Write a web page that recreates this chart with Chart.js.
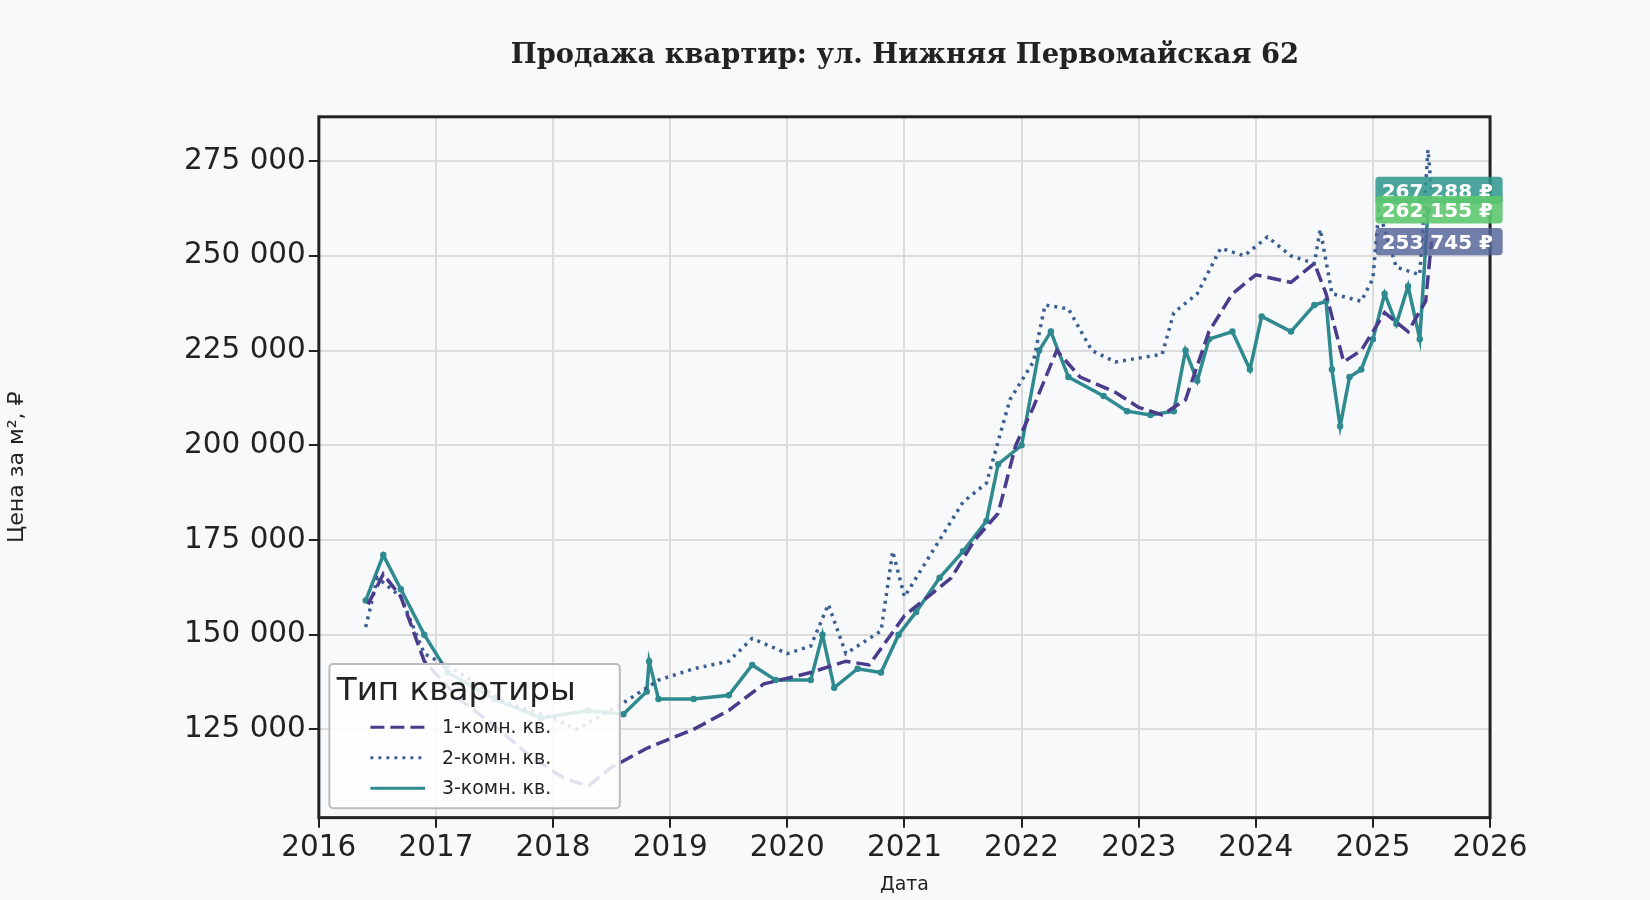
<!DOCTYPE html>
<html>
<head>
<meta charset="utf-8">
<script src="https://cdn.jsdelivr.net/npm/chart.js@4"></script>
<style>
  body { margin: 0; background: #f8f9fb; }
</style>
</head>
<body>
<canvas id="myChart" width="1650" height="900"></canvas>
<script>
// даты как доли года
const oneRoomX = [2016.42,2016.55,2016.7,2016.9,2017.2,2017.5,2017.8,2018.1,2018.3,2018.5,2018.8,2019.2,2019.5,2019.8,2020.2,2020.5,2020.7,2021.0,2021.2,2021.4,2021.6,2021.8,2021.95,2022.1,2022.3,2022.5,2022.8,2023.0,2023.2,2023.4,2023.6,2023.8,2024.0,2024.3,2024.5,2024.6,2024.75,2024.9,2025.1,2025.3,2025.45,2025.5];
const oneRoomY = [158000,166000,160000,143000,133000,126000,118000,112000,110000,115000,120000,125000,130000,137000,140000,143000,142000,155000,160000,165000,175000,182000,200000,210000,225000,218000,214000,210000,208000,212000,230000,240000,245000,243000,248000,240000,222000,225000,235000,230000,238000,253745];

const twoRoomX = [2016.4,2016.5,2016.7,2016.9,2017.2,2017.6,2018.0,2018.2,2018.6,2018.9,2019.2,2019.5,2019.7,2020.0,2020.2,2020.35,2020.5,2020.8,2020.9,2021.0,2021.3,2021.5,2021.7,2021.9,2022.1,2022.2,2022.4,2022.6,2022.8,2023.0,2023.2,2023.3,2023.5,2023.7,2023.9,2024.1,2024.3,2024.5,2024.55,2024.65,2024.9,2025.0,2025.05,2025.2,2025.4,2025.47,2025.5];
const twoRoomY = [152000,165000,160000,145000,140000,132000,128000,125000,132000,138000,141000,143000,149000,145000,147000,158000,145000,151000,172000,160000,175000,185000,190000,212000,222000,237000,236000,225000,222000,223000,224000,235000,240000,252000,250000,255000,250000,248000,257000,240000,238000,244000,262000,247000,245000,278000,267288];

const threeRoomX = [2016.4,2016.55,2016.7,2016.9,2017.1,2017.5,2017.9,2018.3,2018.6,2018.8,2018.82,2018.9,2019.2,2019.5,2019.7,2019.9,2020.2,2020.3,2020.4,2020.6,2020.8,2020.95,2021.1,2021.3,2021.5,2021.7,2021.8,2022.0,2022.15,2022.25,2022.4,2022.7,2022.9,2023.1,2023.3,2023.4,2023.5,2023.6,2023.8,2023.95,2024.05,2024.3,2024.5,2024.6,2024.65,2024.72,2024.8,2024.9,2025.0,2025.1,2025.2,2025.3,2025.4,2025.47];
const threeRoomY = [159000,171000,162000,150000,140000,133000,128000,130000,129000,135000,143000,133000,133000,134000,142000,138000,138000,150000,136000,141000,140000,150000,156000,165000,172000,180000,195000,200000,225000,230000,218000,213000,209000,208000,209000,225000,217000,228000,230000,220000,234000,230000,237000,238000,220000,205000,218000,220000,228000,240000,232000,242000,228000,262155];

const seriesNames = ['1-комн. кв.', '2-комн. кв.', '3-комн. кв.'];
const seriesColors = ['#4b3b8c', '#3b5d91', '#2e8a8f'];
const yTicks = [125000,150000,175000,200000,225000,250000,275000];
const lastLabels = [
  { text: '267 288 ₽', value: 267288, bg: 'rgba(46,150,140,0.85)' },
  { text: '262 155 ₽', value: 262155, bg: 'rgba(94,200,110,0.9)' },
  { text: '253 745 ₽', value: 253745, bg: 'rgba(80,95,150,0.8)' }
];

const k = 1650 / 1568;
const fmt = v => String(v).replace(/\B(?=(\d{3})+(?!\d))/g, ' ');
const pts = (xs, ys) => xs.map((x, i) => ({ x: x, y: ys[i] }));

// заголовок, рамка, легенда и метки последних значений
const decor = {
  id: 'decor',
  afterDraw(chart) {
    const { ctx, chartArea: a } = chart;
    ctx.save();
    ctx.fillStyle = '#222';
    ctx.font = `bold ${26 * k}px "DejaVu Serif"`;
    ctx.textAlign = 'center';
    ctx.fillText('Продажа квартир: ул. Нижняя Первомайская 62', 860 * k, 60 * k);

    ctx.strokeStyle = '#222';
    ctx.lineWidth = 3;
    ctx.strokeRect(a.left, a.top, a.right - a.left, a.bottom - a.top);

    // легенда
    ctx.fillStyle = 'rgba(255,255,255,0.85)';
    ctx.strokeStyle = '#bbb';
    ctx.lineWidth = 2;
    ctx.beginPath();
    ctx.roundRect(313 * k, 631 * k, 276 * k, 137 * k, 4);
    ctx.fill(); ctx.stroke();
    ctx.fillStyle = '#222';
    ctx.textAlign = 'left';
    ctx.font = `${31 * k}px "DejaVu Sans"`;
    ctx.fillText('Тип квартиры', 320 * k, 665 * k);
    ctx.font = `${18 * k}px "DejaVu Sans"`;
    const dashes = [[14, 6], [3, 5], []];
    seriesNames.forEach((n, i) => {
      const y = (691 + i * 29) * k;
      ctx.strokeStyle = seriesColors[i];
      ctx.lineWidth = 3;
      ctx.setLineDash(dashes[i]);
      ctx.beginPath(); ctx.moveTo(352 * k, y); ctx.lineTo(404 * k, y); ctx.stroke();
      ctx.setLineDash([]);
      ctx.fillStyle = '#222';
      ctx.fillText(n, 420 * k, y + 6 * k);
    });

    // метки значений
    const ys = chart.scales.y;
    ctx.font = `bold ${19 * k}px "DejaVu Sans"`;
    lastLabels.forEach(l => {
      const y = ys.getPixelForValue(l.value);
      ctx.fillStyle = l.bg;
      ctx.beginPath();
      ctx.roundRect(1307 * k, y - 13 * k, 121 * k, 26 * k, 4);
      ctx.fill();
      ctx.fillStyle = '#fff';
      ctx.fillText(l.text, 1313 * k, y + 7 * k);
    });
    ctx.restore();
  }
};

new Chart(document.getElementById('myChart'), {
  type: 'line',
  data: {
    datasets: [
      { label: seriesNames[0], data: pts(oneRoomX, oneRoomY), borderColor: seriesColors[0], borderWidth: 3.5, borderDash: [14, 6], pointRadius: 0 },
      { label: seriesNames[1], data: pts(twoRoomX, twoRoomY), borderColor: seriesColors[1], borderWidth: 3.5, borderDash: [3, 5], pointRadius: 0 },
      { label: seriesNames[2], data: pts(threeRoomX, threeRoomY), borderColor: seriesColors[2], borderWidth: 3.5, pointRadius: 1.5, pointBackgroundColor: seriesColors[2] }
    ]
  },
  options: {
    responsive: false,
    animation: false,
    devicePixelRatio: 1,
    layout: { padding: { top: 111 * k, right: 1650 - 1416 * k, bottom: 0, left: 0 } },
    plugins: { legend: { display: false }, tooltip: { enabled: false } },
    scales: {
      x: {
        type: 'linear', min: 2016, max: 2026,
        afterFit: s => { s.height = 900 - 777 * k; },
        afterBuildTicks: s => { s.ticks = [2016,2017,2018,2019,2020,2021,2022,2023,2024,2025,2026].map(v => ({ value: v })); },
        ticks: { color: '#222', font: { size: 28 * k, family: 'DejaVu Sans' }, callback: v => String(v) },
        grid: { color: '#dcdcdc', lineWidth: 2, tickLength: 10, tickColor: '#222' },
        title: { display: true, text: 'Дата', color: '#222', font: { size: 18 * k, family: 'DejaVu Sans' } }
      },
      y: {
        min: 101700, max: 286700,
        afterFit: s => { s.width = 303 * k; },
        afterBuildTicks: s => { s.ticks = yTicks.map(v => ({ value: v })); },
        ticks: { color: '#222', font: { size: 28 * k, family: 'DejaVu Sans' }, callback: v => fmt(v) },
        grid: { color: '#dcdcdc', lineWidth: 2, tickLength: 10, tickColor: '#222' },
        title: { display: true, text: 'Цена за м², ₽', color: '#222', font: { size: 21 * k, family: 'DejaVu Sans' } }
      }
    }
  },
  plugins: [decor]
});
</script>
</body>
</html>
